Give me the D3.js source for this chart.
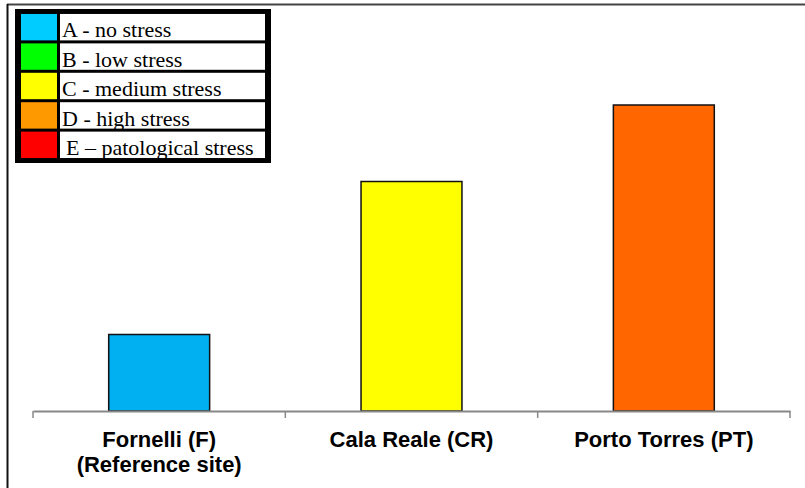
<!DOCTYPE html>
<html><head><meta charset="utf-8">
<script src="https://cdn.jsdelivr.net/npm/d3@7"></script>
<style>body{margin:0;background:#fff}svg{display:block}</style>
</head><body>
<script>
const categories = ["Fornelli (F)|(Reference site)", "Cala Reale (CR)", "Porto Torres (PT)"];
const values = [1, 3, 4];
const barColors = ["#00b0f0", "#ffff00", "#ff6600"];
const legendLabels = ["A - no stress", "B - low stress", "C - medium stress", "D - high stress", "E \u2013 patological stress"];
const legendColors = ["#00ccff", "#00ff00", "#ffff00", "#ff9900", "#ff0000"];

const W = 805, H = 488;
const svg = d3.select("body").append("svg").attr("width", W).attr("height", H);

// outer frame
svg.append("line").attr("x1", 7).attr("x2", W).attr("y1", 4.5).attr("y2", 4.5).attr("stroke", "#444").attr("stroke-width", 2);
svg.append("line").attr("x1", 7.5).attr("x2", 7.5).attr("y1", 4).attr("y2", H).attr("stroke", "#111").attr("stroke-width", 2);

const x = d3.scaleBand().domain(categories).range([33, 790]).paddingInner(0.6).paddingOuter(0.3);
const y = d3.scaleLinear().domain([0, 5]).range([411, 28.5]);

svg.selectAll("rect.bar").data(values).enter().append("rect")
  .attr("class", "bar")
  .attr("x", (d, i) => x(categories[i]))
  .attr("width", x.bandwidth())
  .attr("y", d => y(d))
  .attr("height", d => y(0) - y(d))
  .attr("fill", (d, i) => barColors[i])
  .attr("stroke", "#111").attr("stroke-width", 1.5);

const ax = svg.append("g").attr("transform", "translate(0,411)")
  .call(d3.axisBottom(x).tickSize(0).tickFormat(""));
ax.select(".domain").attr("stroke", "#888").attr("stroke-width", 2);
// category boundary ticks
const bounds = [33].concat(categories.map(c => x(c) - x.step() * x.paddingInner() / 2 + x.step()));
bounds[bounds.length - 1] = 790;
svg.selectAll("line.tk").data(bounds).enter().append("line")
  .attr("x1", d => d).attr("x2", d => d).attr("y1", 411).attr("y2", 418)
  .attr("stroke", "#888").attr("stroke-width", 1.5);

categories.forEach(c => {
  const lines = c.split("|");
  const t = svg.append("text").attr("x", x(c) + x.bandwidth() / 2).attr("y", 447)
    .attr("text-anchor", "middle")
    .style("font-family", "'Liberation Sans', Arial, sans-serif")
    .style("font-weight", "bold").style("font-size", "22px").attr("fill", "#000");
  lines.forEach((l, i) => t.append("tspan").attr("x", x(c) + x.bandwidth() / 2).attr("dy", i ? 25 : 0).text(l));
});

// legend
const lg = svg.append("g");
lg.append("rect").attr("x", 15).attr("y", 9).attr("width", 256).attr("height", 154).attr("fill", "#000");
const ly = d3.scaleBand().domain(legendLabels).range([12.5, 159.5]).paddingInner(3 / 29.4).paddingOuter(0.05);
legendLabels.forEach((l, i) => {
  lg.append("rect").attr("x", 21).attr("y", ly(l)).attr("width", 36).attr("height", ly.bandwidth()).attr("fill", legendColors[i]);
  lg.append("rect").attr("x", 60).attr("y", ly(l)).attr("width", 205).attr("height", ly.bandwidth()).attr("fill", "#fff");
  lg.append("text").attr("x", i === 4 ? 66 : 62).attr("y", ly(l) + ly.bandwidth() - 3)
    .style("font-family", "'Liberation Serif', 'Times New Roman', serif").style("font-size", "22px")
    .attr("fill", "#000").text(l);
});
</script>
</body></html>
